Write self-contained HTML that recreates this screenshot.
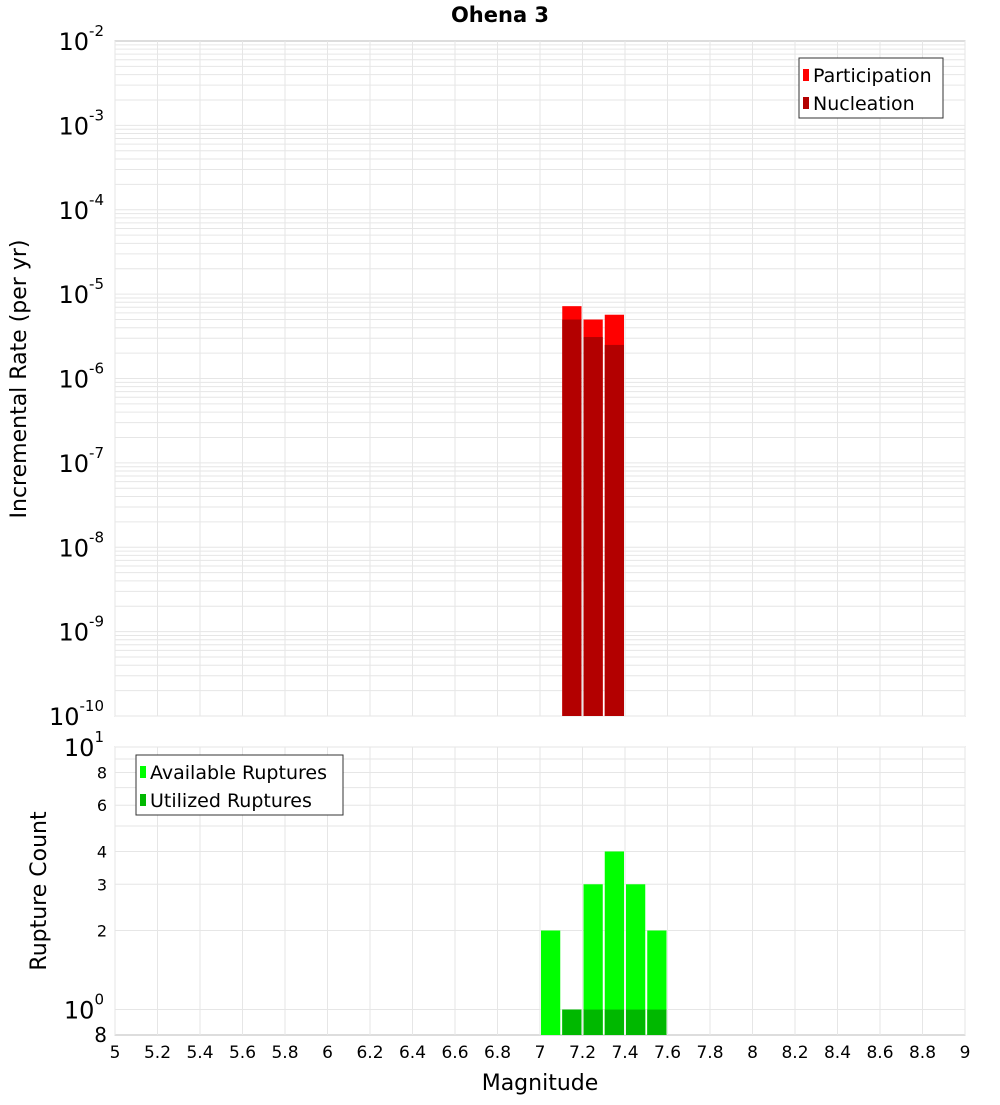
<!DOCTYPE html>
<html><head><meta charset="utf-8"><style>
body{margin:0;background:#fff;font-family:"Liberation Sans","DejaVu Sans",sans-serif}
svg text{font-family:"DejaVu Sans","Liberation Sans",sans-serif}
</style></head><body>
<svg id="c" width="1000" height="1100" xmlns="http://www.w3.org/2000/svg">
<text x="500" y="22" text-anchor="middle" font-size="21" font-weight="bold">Ohena 3</text>
<g id="g"></g>
</svg>
<script>
const magBins=[7.0,7.1,7.2,7.3,7.4,7.5];
const participation=[null,7.2e-6,5.0e-6,5.7e-6,null,null];
const nucleation=[null,5.0e-6,3.1e-6,2.5e-6,null,null];
const available=[2,1,3,4,3,2];
const utilized=[null,1,1,1,1,1];
const xTicks=[5,5.2,5.4,5.6,5.8,6,6.2,6.4,6.6,6.8,7,7.2,7.4,7.6,7.8,8,8.2,8.4,8.6,8.8,9];
const topExps=[-2,-3,-4,-5,-6,-7,-8,-9,-10];
const botTicks=[8,6,4,3,2];

const NS='http://www.w3.org/2000/svg';
const g=document.getElementById('g');
function el(t,a,p){const e=document.createElementNS(NS,t);for(const k in a)e.setAttribute(k,a[k]);(p||g).appendChild(e);return e;}
const X0=115,X1=965;
const xs=m=>X0+(m-5)/4*(X1-X0);
const T0=41,T1=716;
const yt=v=>T1-(Math.log10(v)+10)/8*(T1-T0);
const B0=747,B1=1035;
const lb=Math.log10(0.8),ub=1;
const yb=v=>B1-(Math.log10(v)-lb)/(ub-lb)*(B1-B0);

// panels
let r=el('rect',{x:X0,y:T0,width:X1-X0,height:T1-T0,fill:'#fff',stroke:'#bbb'});

r=el('rect',{x:X0,y:B0,width:X1-X0,height:B1-B0,fill:'#fff',stroke:'#bbb'});

// grids
for(let e=-10;e<-2;e++)for(let k=1;k<10;k++){const y=yt(k*Math.pow(10,e));el('line',{x1:X0,x2:X1,y1:y,y2:y,stroke:'#e6e6e6','stroke-width':1});}
for(let k=1;k<=10;k++){const y=yb(k);el('line',{x1:X0,x2:X1,y1:y,y2:y,stroke:'#e6e6e6'});}
xTicks.forEach(m=>{const x=xs(m);el('line',{x1:x,x2:x,y1:T0,y2:T1,stroke:'#e6e6e6'});el('line',{x1:x,x2:x,y1:B0,y2:B1,stroke:'#e6e6e6'});});
// top bars
const bw=(X1-X0)/40;
magBins.forEach((m,i)=>{
 const x=xs(m)+1;
 if(participation[i]!=null){const b=el('rect',{x:x,y:yt(participation[i]),width:bw-2,height:T1-yt(participation[i]),fill:'#ff0000'});
 }
 if(nucleation[i]!=null){const b=el('rect',{x:x,y:yt(nucleation[i]),width:bw-2,height:T1-yt(nucleation[i]),fill:'#b30000'});
 }
 if(available[i]!=null){const b=el('rect',{x:x,y:yb(available[i]),width:bw-2,height:B1-yb(available[i]),fill:'#00ff00'});
 }
 if(utilized[i]!=null){const b=el('rect',{x:x,y:yb(utilized[i]),width:bw-2,height:B1-yb(utilized[i]),fill:'#00b800'});
 }
});
// y tick labels top
topExps.forEach(e=>{const y=yt(Math.pow(10,e));
 const t=el('text',{x:104,y:y+9,'text-anchor':'end','font-size':24});
 
 t.textContent='10';const s=el('tspan',{dy:-14,'font-size':15},t);s.textContent=String(e);});
// bottom ticks
let t=el('text',{x:104,y:yb(10)+9,'text-anchor':'end','font-size':24});
t.textContent='10';let s=el('tspan',{dy:-14,'font-size':15},t);s.textContent='1';
t=el('text',{x:104,y:yb(1)+9,'text-anchor':'end','font-size':24});
t.textContent='10';s=el('tspan',{dy:-14,'font-size':15},t);s.textContent='0';
botTicks.forEach(v=>{const tt=el('text',{x:107,y:yb(v)+6,'text-anchor':'end','font-size':16});
 tt.textContent=v;});
t=el('text',{x:107,y:1042,'text-anchor':'end','font-size':20});t.textContent='8';
// x ticks
xTicks.forEach(m=>{const tt=el('text',{x:xs(m),y:1058,'text-anchor':'middle','font-size':17});
 tt.textContent=String(m);});
t=el('text',{x:540,y:1090,'text-anchor':'middle','font-size':22});t.textContent='Magnitude';
t=el('text',{x:0,y:0,'text-anchor':'middle','font-size':22,transform:'translate(26,379) rotate(-90)'});t.textContent='Incremental Rate (per yr)';
t=el('text',{x:0,y:0,'text-anchor':'middle','font-size':22,transform:'translate(46,891) rotate(-90)'});t.textContent='Rupture Count';
// legends
function legend(x,y,w,items,name){const lg=el('g',{});
 el('rect',{x:x,y:y,width:w,height:60,fill:'#fff',stroke:'#333'},lg);
 items.forEach((it,i)=>{el('rect',{x:x+4,y:y+11+i*28,width:6,height:12,fill:it[1]},lg);
  const tx=el('text',{x:x+14,y:y+24+i*28,'font-size':19},lg);tx.textContent=it[0];});}
legend(799,58,144,[['Participation','#ff0000'],['Nucleation','#b30000']],'top-legend');
legend(136,755,207,[['Available Ruptures','#00ff00'],['Utilized Ruptures','#00b800']],'bottom-legend');
</script>
</body></html>
